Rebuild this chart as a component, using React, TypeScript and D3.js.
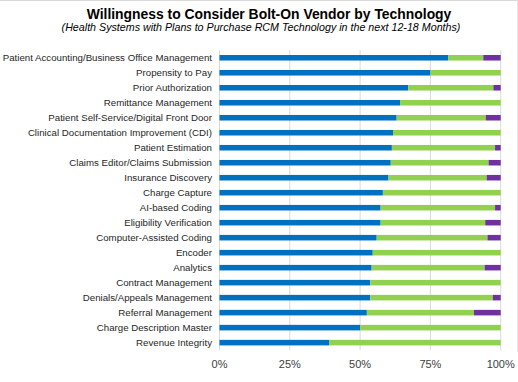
import React from "react";
import * as d3 from "d3";

const categories = [
  "Patient Accounting/Business Office Management",
  "Propensity to Pay",
  "Prior Authorization",
  "Remittance Management",
  "Patient Self-Service/Digital Front Door",
  "Clinical Documentation Improvement (CDI)",
  "Patient Estimation",
  "Claims Editor/Claims Submission",
  "Insurance Discovery",
  "Charge Capture",
  "AI-based Coding",
  "Eligibility Verification",
  "Computer-Assisted Coding",
  "Encoder",
  "Analytics",
  "Contract Management",
  "Denials/Appeals Management",
  "Referral Management",
  "Charge Description Master",
  "Revenue Integrity",
];

const blueValues = [81.3, 75.0, 67.1, 64.2, 63.0, 61.7, 61.3, 60.9, 60.1, 58.1, 57.3, 57.3, 55.9, 54.5, 54.1, 53.6, 53.6, 52.4, 50.0, 39.1];
const greenValues = [12.5, 25.0, 30.3, 35.8, 31.7, 38.3, 36.7, 34.8, 34.9, 41.9, 40.7, 37.2, 39.4, 45.5, 40.2, 46.4, 43.6, 38.1, 50.0, 60.9];
const purpleValues = [6.2, 0, 2.6, 0, 5.3, 0, 2.0, 4.3, 5.0, 0, 2.0, 5.5, 4.7, 0, 5.7, 0, 2.8, 9.5, 0, 0];

const tickValues = [0, 25, 50, 75, 100];
const seriesKeys = ["blue", "green", "purple"];
const seriesColors = ["#0070C0", "#92D050", "#7030A0"];

const titleText = "Willingness to Consider Bolt-On Vendor by Technology";
const subtitleText = "(Health Systems with Plans to Purchase RCM Technology in the next 12-18 Months)";

export default function App() {
  const width = 518;
  const height = 382;
  const left = 219.5;
  const right = 500.7;
  const top = 50.2;
  const bottom = 350.2;

  const x = d3.scaleLinear().domain([0, 100]).range([left, right]);
  const y = d3.scaleBand().domain(categories).range([top, bottom]).paddingInner(0.63).paddingOuter(0.32);

  const rows = categories.map((c, i) => ({ cat: c, blue: blueValues[i], green: greenValues[i], purple: purpleValues[i] }));
  const stack = d3.stack<any>().keys(seriesKeys)(rows);

  const font = "Arial, 'Liberation Sans', sans-serif";

  return (
    <div style={{ position: "absolute", left: 0, top: 0 }}>
      <svg width={width} height={height} style={{ display: "block", background: "#fff" }}>
        <line x1={0} x2={width} y1={0.5} y2={0.5} stroke="#d9d9d9" />
        <line x1={517.5} x2={517.5} y1={0} y2={352} stroke="#e6e6e6" />
        <text x={269} y={19} textAnchor="middle" fontFamily={font} fontWeight="bold" fontSize={13.9} fill="#000">
          {titleText}
        </text>
        <text x={261} y={30.5} textAnchor="middle" fontFamily={font} fontStyle="italic" fontSize={10.7} fill="#000">
          {subtitleText}
        </text>
        {tickValues.map((t) => (
          <g key={t}>
            <line x1={x(t)} x2={x(t)} y1={top} y2={bottom} stroke="#d9d9d9" strokeWidth={1} />
            <text x={x(t)} y={367.5} textAnchor="middle" fontFamily={font} fontSize={11} fill="#404040">
              {t + "%"}
            </text>
          </g>
        ))}
        {stack.map((s, si) => (
          <g key={seriesKeys[si]} fill={seriesColors[si]}>
            {s.map((d: any, i: number) =>
              d[1] - d[0] > 0 ? (
                <rect key={i} x={x(d[0])} width={x(d[1]) - x(d[0])} y={y(categories[i])} height={y.bandwidth()} />
              ) : null
            )}
          </g>
        ))}
        {categories.map((c) => (
          <text
            key={c}
            x={212}
            y={(y(c) as number) + y.bandwidth() / 2}
            dy="0.35em"
            textAnchor="end"
            fontFamily={font}
            fontSize={9.7}
            fill="#262626"
          >
            {c}
          </text>
        ))}
      </svg>
    </div>
  );
}
